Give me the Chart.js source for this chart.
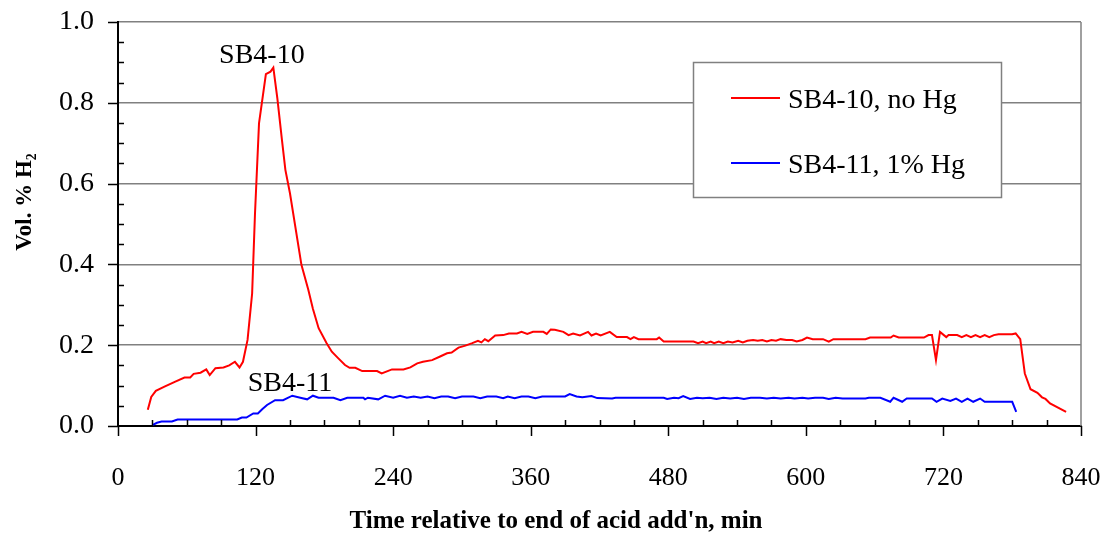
<!DOCTYPE html>
<html>
<head>
<meta charset="utf-8">
<script src="https://cdn.jsdelivr.net/npm/chart.js@4.4.1/dist/chart.umd.min.js"></script>
<style>
  html, body { margin: 0; padding: 0; background: #fff; }
  #wrap { width: 1107px; height: 539px; position: relative; }
</style>
</head>
<body>
<div id="wrap"><canvas id="h2Chart"></canvas></div>
<script>
// H2 concentration after acid addition, two runs
const redTime = [26, 29, 33, 41, 50, 58, 63, 66, 72, 77, 80, 85, 92, 97, 102, 106, 109, 113, 117, 119.5,
  123, 129, 133, 135.5, 139, 143, 146, 150, 160, 166, 170, 175, 182, 186.5, 192, 198, 202, 207, 213, 226,
  230, 239, 249, 255, 261, 266, 274, 281, 287, 291, 297, 303, 309, 314, 317, 320, 323, 329, 336, 341,
  348, 352, 357, 362, 371, 374, 377.5, 381, 388.5, 393, 397, 403, 410, 413, 417, 421, 429, 435, 444, 447,
  450, 454, 470, 472, 476, 502, 506, 510, 513, 517, 520, 524, 528, 532, 536, 541, 545, 549, 554, 558,
  562, 566, 570, 574, 578, 583, 588, 592, 597, 601, 606, 615, 620, 624, 652, 656, 674, 676.5, 681, 703,
  707, 710, 713.5, 717, 722.5, 724.5, 732, 736, 740, 744, 748, 752, 756, 760, 764, 768, 780, 783, 787,
  791, 796, 802, 806, 809, 813, 827];
const redVol = [0.040, 0.072, 0.087, 0.098, 0.110, 0.120, 0.120, 0.129, 0.132, 0.140, 0.126, 0.143, 0.145, 0.150, 0.159, 0.145, 0.159, 0.213, 0.328, 0.526,
  0.749, 0.871, 0.877, 0.887, 0.811, 0.708, 0.634, 0.576, 0.399, 0.337, 0.290, 0.242, 0.205, 0.184, 0.168, 0.151, 0.144, 0.144, 0.136, 0.136,
  0.130, 0.140, 0.140, 0.145, 0.155, 0.159, 0.163, 0.172, 0.180, 0.182, 0.194, 0.199, 0.205, 0.211, 0.207, 0.215, 0.210, 0.224, 0.225, 0.229,
  0.229, 0.233, 0.228, 0.233, 0.233, 0.228, 0.239, 0.238, 0.233, 0.225, 0.229, 0.224, 0.233, 0.224, 0.229, 0.224, 0.233, 0.220, 0.220, 0.215,
  0.220, 0.215, 0.215, 0.219, 0.209, 0.209, 0.205, 0.209, 0.205, 0.209, 0.205, 0.209, 0.205, 0.209, 0.207, 0.211, 0.207, 0.211, 0.213, 0.211,
  0.213, 0.209, 0.213, 0.211, 0.215, 0.213, 0.213, 0.209, 0.213, 0.219, 0.215, 0.215, 0.209, 0.215, 0.215, 0.219, 0.219, 0.224, 0.219, 0.219,
  0.225, 0.225, 0.163, 0.233, 0.220, 0.225, 0.225, 0.220, 0.225, 0.220, 0.225, 0.220, 0.225, 0.220, 0.225, 0.227, 0.227, 0.229, 0.215,
  0.130, 0.091, 0.082, 0.071, 0.067, 0.056, 0.035];

const blueTime = [30, 34, 38, 47, 52, 104, 108, 112, 118, 122, 126, 130, 137, 144, 152, 159, 165, 170, 175, 188,
  194, 200, 214, 215.5, 218, 227, 233, 240, 246, 252, 258, 264, 270, 276, 282, 288, 294, 300, 310, 316,
  322, 330, 336, 340, 346, 352, 358, 364, 370, 390, 394, 400, 405, 413, 418, 431, 434, 476, 479, 485,
  489, 493, 499, 505, 510, 516, 522, 528, 534, 540, 546, 552, 560, 566, 572, 578, 585, 590, 597, 602,
  608, 615, 620, 626, 632, 652, 655, 665, 673.6, 676.5, 684, 688, 710, 714, 719, 726, 731, 736, 741, 746,
  752, 756, 780, 783.5];
const blueVol = [0.002, 0.008, 0.011, 0.011, 0.016, 0.016, 0.021, 0.021, 0.031, 0.031, 0.042, 0.052, 0.064, 0.064, 0.075, 0.070, 0.066, 0.075, 0.070, 0.070,
  0.064, 0.070, 0.070, 0.066, 0.070, 0.066, 0.075, 0.070, 0.075, 0.070, 0.073, 0.070, 0.073, 0.069, 0.073, 0.073, 0.069, 0.073, 0.073, 0.069,
  0.073, 0.073, 0.069, 0.073, 0.069, 0.073, 0.073, 0.069, 0.073, 0.073, 0.079, 0.073, 0.071, 0.074, 0.069, 0.068, 0.070, 0.070, 0.067, 0.070,
  0.069, 0.074, 0.067, 0.070, 0.069, 0.070, 0.067, 0.070, 0.068, 0.070, 0.067, 0.070, 0.070, 0.068, 0.070, 0.068, 0.070, 0.068, 0.070, 0.068,
  0.070, 0.070, 0.067, 0.070, 0.068, 0.068, 0.070, 0.070, 0.060, 0.070, 0.060, 0.068, 0.068, 0.060, 0.068, 0.062, 0.068, 0.060, 0.068, 0.060,
  0.068, 0.060, 0.060, 0.035];

const seriesNames = ['SB4-10, no Hg', 'SB4-11, 1% Hg'];
const seriesColors = ['#ff0000', '#0000ff'];
const xTicks = [0, 120, 240, 360, 480, 600, 720, 840];
const yTicks = [0, 0.2, 0.4, 0.6, 0.8, 1.0];
const xTitle = "Time relative to end of acid add'n, min";
const yTitle = 'Vol. % H₂';

// in-plot run labels, placed in data units
const runLabels = [
  { text: 'SB4-10', x: 125.5, y: 0.916 },
  { text: 'SB4-11', x: 150, y: 0.106 }
];

const SERIF = "'Liberation Serif', 'Times New Roman', serif";

const toPoints = (xs, ys) => xs.map((x, i) => ({ x, y: ys[i] }));

// tick marks, right frame edge, axis titles, legend box and run labels
const decorations = {
  id: 'decorations',
  afterDraw(chart) {
    const { ctx, chartArea: a, scales: { x, y } } = chart;
    ctx.save();

    ctx.strokeStyle = '#808080';
    ctx.lineWidth = 1.5;
    ctx.beginPath();
    ctx.moveTo(a.right, a.top);
    ctx.lineTo(a.right, a.bottom);
    ctx.stroke();

    ctx.strokeStyle = '#000';
    ctx.lineWidth = 1.5;
    ctx.beginPath();
    for (let v = 0; v <= 1.0001; v += 0.05) {
      const py = Math.round(y.getPixelForValue(v)) + 0.5;
      const major = Math.abs(v / 0.2 - Math.round(v / 0.2)) < 1e-6;
      if (major) { ctx.moveTo(a.left - 10, py); ctx.lineTo(a.left, py); }
      else { ctx.moveTo(a.left, py); ctx.lineTo(a.left + 6, py); }
    }
    for (let t = 0; t <= 840; t += 30) {
      const px = Math.round(x.getPixelForValue(t)) + 0.5;
      if (t % 120 === 0) { ctx.moveTo(px, a.bottom); ctx.lineTo(px, a.bottom + 10); }
      else { ctx.moveTo(px, a.bottom - 6); ctx.lineTo(px, a.bottom); }
    }
    ctx.stroke();

    // axis titles
    ctx.fillStyle = '#000';
    ctx.textAlign = 'center';
    ctx.textBaseline = 'middle';
    ctx.font = 'bold 25px ' + SERIF;
    ctx.fillText(xTitle, 556, 522);
    ctx.save();
    ctx.translate(25, 202);
    ctx.rotate(-Math.PI / 2);
    ctx.font = 'bold 23px ' + SERIF;
    ctx.fillText(yTitle, 0, 0);
    ctx.restore();

    // legend
    const lx = 693, ly = 62, lw = 308, lh = 135;
    ctx.fillStyle = '#fff';
    ctx.fillRect(lx, ly, lw, lh);
    ctx.strokeStyle = '#808080';
    ctx.lineWidth = 1.5;
    ctx.strokeRect(lx + 0.5, ly + 0.5, lw, lh);
    ctx.font = '28px ' + SERIF;
    ctx.textAlign = 'left';
    seriesNames.forEach((name, i) => {
      const cy = ly + 36 + i * 65;
      ctx.strokeStyle = seriesColors[i];
      ctx.lineWidth = 2;
      ctx.beginPath();
      ctx.moveTo(731, cy);
      ctx.lineTo(780, cy);
      ctx.stroke();
      ctx.fillStyle = '#000';
      ctx.fillText(name, 788, cy + 3);
    });

    ctx.textAlign = 'center';
    ctx.font = '28px ' + SERIF;
    runLabels.forEach(l => {
      ctx.fillText(l.text, x.getPixelForValue(l.x), y.getPixelForValue(l.y));
    });
    ctx.restore();
  }
};

new Chart(document.getElementById('h2Chart'), {
  type: 'scatter',
  data: {
    datasets: [
      { label: seriesNames[0], data: toPoints(redTime, redVol), borderColor: seriesColors[0] },
      { label: seriesNames[1], data: toPoints(blueTime, blueVol), borderColor: seriesColors[1] }
    ].map(d => ({ ...d, showLine: true, pointRadius: 0, borderWidth: 2, tension: 0, fill: false }))
  },
  options: {
    responsive: true,
    maintainAspectRatio: false,
    animation: false,
    layout: { padding: { left: 0, right: 26, top: 22, bottom: 0 } },
    plugins: { legend: { display: false }, tooltip: { enabled: false } },
    scales: {
      x: {
        type: 'linear',
        min: 0,
        max: 840,
        afterFit: s => { s.height = 113; s.paddingLeft = 0; s.paddingRight = 0; },
        afterBuildTicks: s => { s.ticks = xTicks.map(v => ({ value: v })); },
        grid: { display: false, drawTicks: false },
        border: { display: true, color: '#000', width: 2 },
        ticks: { color: '#000', padding: 37, maxRotation: 0, font: { family: SERIF, size: 26 } }
      },
      y: {
        min: 0,
        max: 1,
        afterFit: s => { s.width = 118; s.paddingTop = 0; s.paddingBottom = 0; },
        afterBuildTicks: s => { s.ticks = yTicks.map(v => ({ value: v })); },
        grid: {
          drawTicks: false,
          color: c => (c.tick && c.tick.value > 0 ? '#808080' : 'rgba(0,0,0,0)'),
          lineWidth: 1.5
        },
        border: { display: true, color: '#000', width: 2 },
        ticks: {
          color: '#000',
          padding: 24,
          callback: v => v.toFixed(1),
          font: { family: SERIF, size: 28 }
        }
      }
    }
  },
  plugins: [decorations]
});
</script>
</body>
</html>
